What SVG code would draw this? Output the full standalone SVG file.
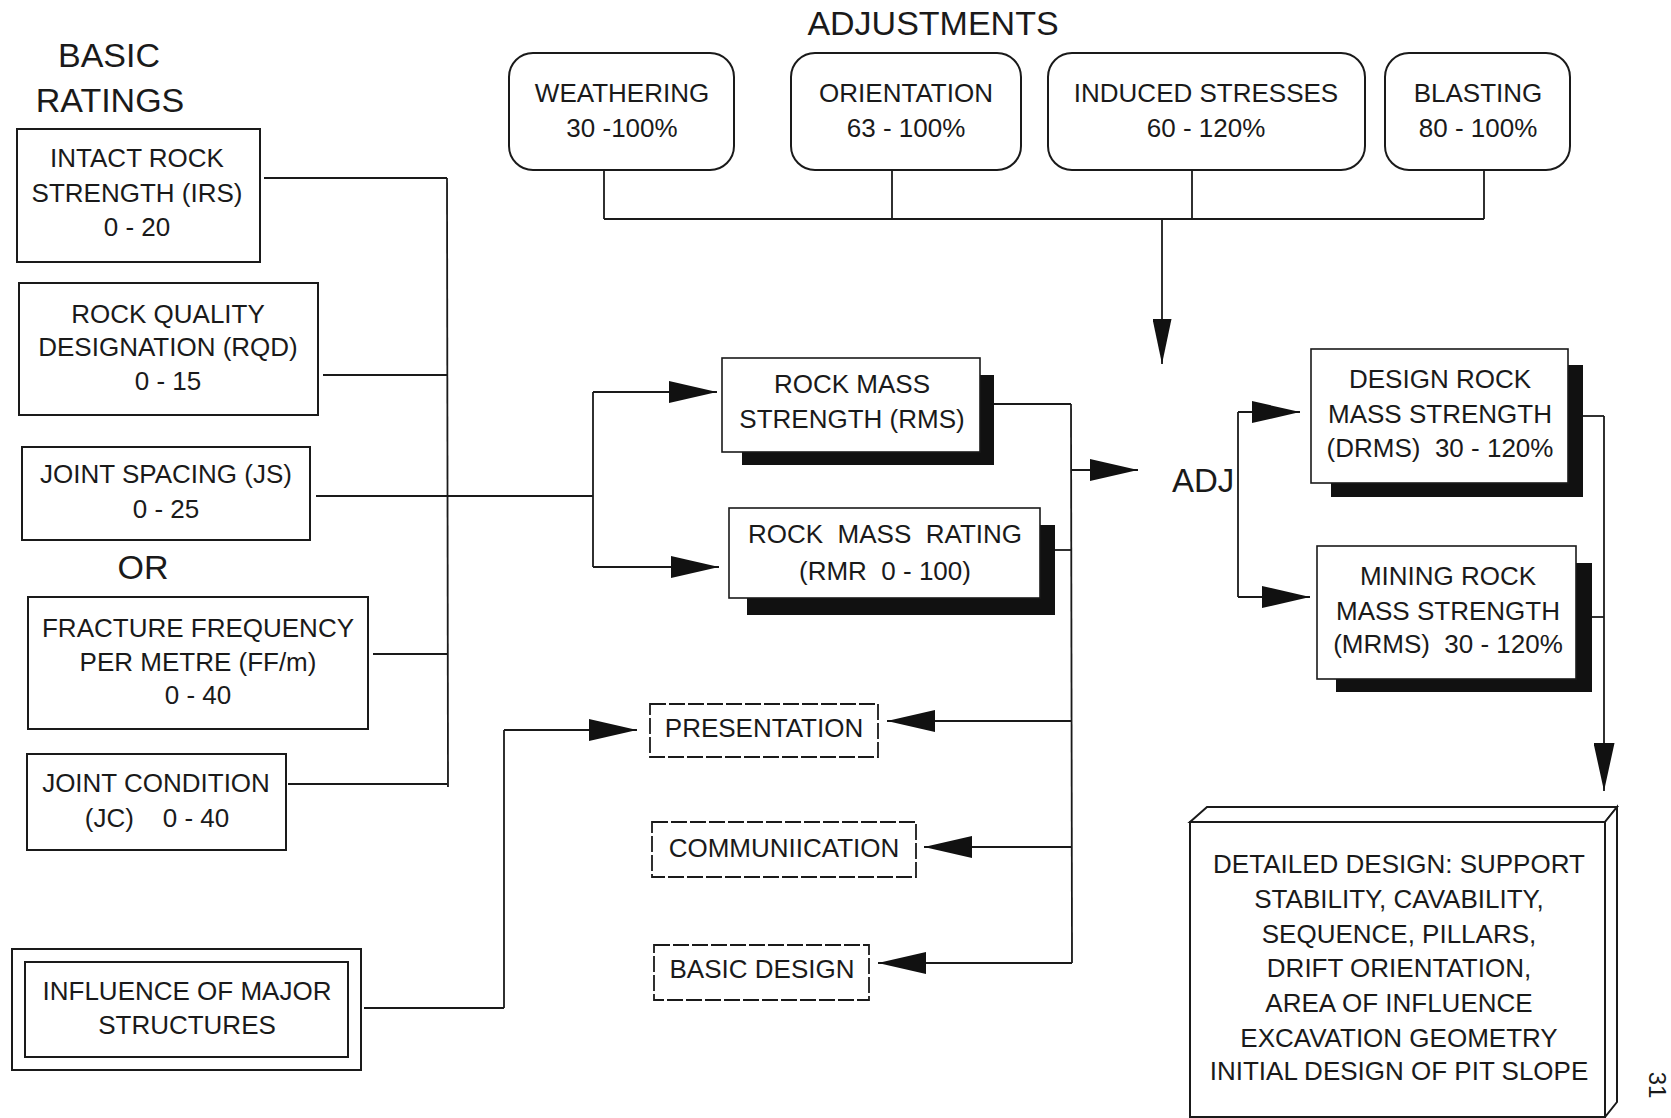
<svg xmlns="http://www.w3.org/2000/svg" width="1671" height="1118" viewBox="0 0 1671 1118">
<style>
.box{fill:#fff;stroke:#1a1a1a;stroke-width:2}
.dbox{fill:#fff;stroke:#1a1a1a;stroke-width:1.8;stroke-dasharray:16 3}
.sh{fill:#111}
.t{font-family:"Liberation Sans",Arial,sans-serif;font-size:26px;fill:#1a1a1a;text-anchor:middle}
.big{font-size:34px}
.ln{stroke:#1a1a1a;stroke-width:1.8;fill:none}
</style>
<defs>
<marker id="ah" markerUnits="userSpaceOnUse" viewBox="0 0 48 22" markerWidth="48" markerHeight="22" refX="48" refY="11" orient="auto"><path d="M0,0 L48,11 L0,22 Z" fill="#111"/></marker>
<marker id="ahd" markerUnits="userSpaceOnUse" viewBox="0 0 45 19" markerWidth="45" markerHeight="19" refX="45" refY="9.5" orient="auto"><path d="M0,0 L45,9.5 L0,19 Z" fill="#111"/></marker>
<marker id="ahd2" markerUnits="userSpaceOnUse" viewBox="0 0 48 21" markerWidth="48" markerHeight="21" refX="48" refY="10.5" orient="auto"><path d="M0,0 L48,10.5 L0,21 Z" fill="#111"/></marker>
</defs>
<rect width="1671" height="1118" fill="#fff"/>

<g id="titles">
<text class="t big" x="109" y="67">BASIC</text>
<text class="t big" x="110" y="112">RATINGS</text>
<text class="t big" x="933" y="35">ADJUSTMENTS</text>
<text class="t big" x="143" y="579">OR</text>
<text class="t" style="font-size:33px;text-anchor:start" x="1172" y="492">ADJ</text>
<text class="t" style="font-size:24px" transform="translate(1649,1085) rotate(90)">31</text>
</g>

<g id="connectors">
<line class="ln" x1="264" y1="178" x2="447" y2="178"/>
<line class="ln" x1="323" y1="375" x2="447" y2="375"/>
<line class="ln" x1="316" y1="496" x2="593" y2="496"/>
<line class="ln" x1="373" y1="654" x2="447" y2="654"/>
<line class="ln" x1="288" y1="784" x2="447" y2="784"/>
<line class="ln" x1="447" y1="178" x2="448" y2="787"/>
<line class="ln" x1="593" y1="392" x2="593" y2="567"/>
<line class="ln" x1="593" y1="392" x2="717" y2="392" marker-end="url(#ah)"/>
<line class="ln" x1="593" y1="567" x2="719" y2="567" marker-end="url(#ah)"/>
<line class="ln" x1="604" y1="170" x2="604" y2="219"/>
<line class="ln" x1="892" y1="170" x2="892" y2="219"/>
<line class="ln" x1="1192" y1="170" x2="1192" y2="219"/>
<line class="ln" x1="1484" y1="170" x2="1484" y2="219"/>
<line class="ln" x1="604" y1="219" x2="1484" y2="219"/>
<line class="ln" x1="1162" y1="219" x2="1162" y2="364" marker-end="url(#ahd)"/>
<line class="ln" x1="994" y1="404" x2="1071" y2="404"/>
<line class="ln" x1="1055" y1="550" x2="1071" y2="550"/>
<line class="ln" x1="1071" y1="404" x2="1072" y2="963"/>
<line class="ln" x1="1071" y1="470" x2="1138" y2="470" marker-end="url(#ah)"/>
<line class="ln" x1="1071" y1="721" x2="887" y2="721" marker-end="url(#ah)"/>
<line class="ln" x1="1071" y1="847" x2="924" y2="847" marker-end="url(#ah)"/>
<line class="ln" x1="1072" y1="963" x2="878" y2="963" marker-end="url(#ah)"/>
<line class="ln" x1="1238" y1="412" x2="1238" y2="597"/>
<line class="ln" x1="1238" y1="412" x2="1300" y2="412" marker-end="url(#ah)"/>
<line class="ln" x1="1238" y1="597" x2="1310" y2="597" marker-end="url(#ah)"/>
<line class="ln" x1="1583" y1="416" x2="1604" y2="416"/>
<line class="ln" x1="1592" y1="617" x2="1604" y2="617"/>
<line class="ln" x1="1604" y1="416" x2="1604" y2="791" marker-end="url(#ahd2)"/>
<line class="ln" x1="364" y1="1008" x2="504" y2="1008"/>
<line class="ln" x1="504" y1="1008" x2="504" y2="730"/>
<line class="ln" x1="504" y1="730" x2="637" y2="730" marker-end="url(#ah)"/>
</g>

<g id="irs">
<rect class="box" x="17" y="129" width="243" height="133"/>
<text class="t" x="137" y="167">INTACT ROCK</text>
<text class="t" x="137" y="202">STRENGTH (IRS)</text>
<text class="t" x="137" y="236">0 - 20</text>
</g>
<g id="rqd">
<rect class="box" x="19" y="283" width="299" height="132"/>
<text class="t" x="168" y="323">ROCK QUALITY</text>
<text class="t" x="168" y="356">DESIGNATION (RQD)</text>
<text class="t" x="168" y="390">0 - 15</text>
</g>
<g id="js">
<rect class="box" x="22" y="447" width="288" height="93"/>
<text class="t" x="166" y="483">JOINT SPACING (JS)</text>
<text class="t" x="166" y="518">0 - 25</text>
</g>
<g id="ff">
<rect class="box" x="28" y="597" width="340" height="132"/>
<text class="t" x="198" y="637">FRACTURE FREQUENCY</text>
<text class="t" x="198" y="671">PER METRE (FF/m)</text>
<text class="t" x="198" y="704">0 - 40</text>
</g>
<g id="jc">
<rect class="box" x="27" y="754" width="259" height="96"/>
<text class="t" x="156" y="792">JOINT CONDITION</text>
<text class="t" x="157" y="827" xml:space="preserve">(JC)    0 - 40</text>
</g>
<g id="influence">
<rect class="box" x="12" y="949" width="349" height="121"/>
<rect class="box" x="25" y="962" width="323" height="95"/>
<text class="t" x="187" y="1000">INFLUENCE OF MAJOR</text>
<text class="t" x="187" y="1034">STRUCTURES</text>
</g>

<g id="weathering">
<rect class="box" x="509" y="53" width="225" height="117" rx="24"/>
<text class="t" x="622" y="102">WEATHERING</text>
<text class="t" x="622" y="137">30 -100%</text>
</g>
<g id="orientation">
<rect class="box" x="791" y="53" width="230" height="117" rx="24"/>
<text class="t" x="906" y="102">ORIENTATION</text>
<text class="t" x="906" y="137">63 - 100%</text>
</g>
<g id="induced">
<rect class="box" x="1048" y="53" width="317" height="117" rx="24"/>
<text class="t" x="1206" y="102">INDUCED STRESSES</text>
<text class="t" x="1206" y="137">60 - 120%</text>
</g>
<g id="blasting">
<rect class="box" x="1385" y="53" width="185" height="117" rx="24"/>
<text class="t" x="1478" y="102">BLASTING</text>
<text class="t" x="1478" y="137">80 - 100%</text>
</g>

<g id="rms">
<rect class="sh" x="742" y="375" width="252" height="90"/>
<rect class="box" x="722" y="358" width="258" height="94" style="stroke-width:1.6"/>
<text class="t" x="852" y="393">ROCK MASS</text>
<text class="t" x="852" y="428">STRENGTH (RMS)</text>
</g>
<g id="rmr">
<rect class="sh" x="747" y="525" width="308" height="90"/>
<rect class="box" x="729" y="508" width="311" height="90" style="stroke-width:1.6"/>
<text class="t" x="885" y="543" xml:space="preserve">ROCK  MASS  RATING</text>
<text class="t" x="885" y="580" xml:space="preserve">(RMR  0 - 100)</text>
</g>
<g id="drms">
<rect class="sh" x="1331" y="365" width="252" height="132"/>
<rect class="box" x="1311" y="349" width="257" height="134" style="stroke-width:1.6"/>
<text class="t" x="1440" y="388">DESIGN ROCK</text>
<text class="t" x="1440" y="423">MASS STRENGTH</text>
<text class="t" x="1440" y="457" xml:space="preserve">(DRMS)  30 - 120%</text>
</g>
<g id="mrms">
<rect class="sh" x="1336" y="563" width="256" height="129"/>
<rect class="box" x="1317" y="546" width="259" height="133" style="stroke-width:1.6"/>
<text class="t" x="1448" y="585">MINING ROCK</text>
<text class="t" x="1448" y="620">MASS STRENGTH</text>
<text class="t" x="1448" y="653" xml:space="preserve">(MRMS)  30 - 120%</text>
</g>

<g id="presentation">
<rect class="dbox" x="650" y="704" width="228" height="53"/>
<text class="t" x="764" y="737">PRESENTATION</text>
</g>
<g id="communication">
<rect class="dbox" x="652" y="822" width="264" height="55"/>
<text class="t" x="784" y="857">COMMUNIICATION</text>
</g>
<g id="basicdesign">
<rect class="dbox" x="654" y="945" width="215" height="55"/>
<text class="t" x="762" y="978">BASIC DESIGN</text>
</g>

<g id="detailed">
<polygon class="box" points="1190,822 1207,807 1617,807 1605,822"/>
<polygon class="box" points="1605,822 1617,807 1617,1102 1605,1117"/>
<rect class="box" x="1190" y="822" width="415" height="295"/>
<text class="t" x="1399" y="873">DETAILED DESIGN: SUPPORT</text>
<text class="t" x="1399" y="908">STABILITY, CAVABILITY,</text>
<text class="t" x="1399" y="943">SEQUENCE, PILLARS,</text>
<text class="t" x="1399" y="977">DRIFT ORIENTATION,</text>
<text class="t" x="1399" y="1012">AREA OF INFLUENCE</text>
<text class="t" x="1399" y="1047">EXCAVATION GEOMETRY</text>
<text class="t" x="1399" y="1080">INITIAL DESIGN OF PIT SLOPE</text>
</g>
</svg>
